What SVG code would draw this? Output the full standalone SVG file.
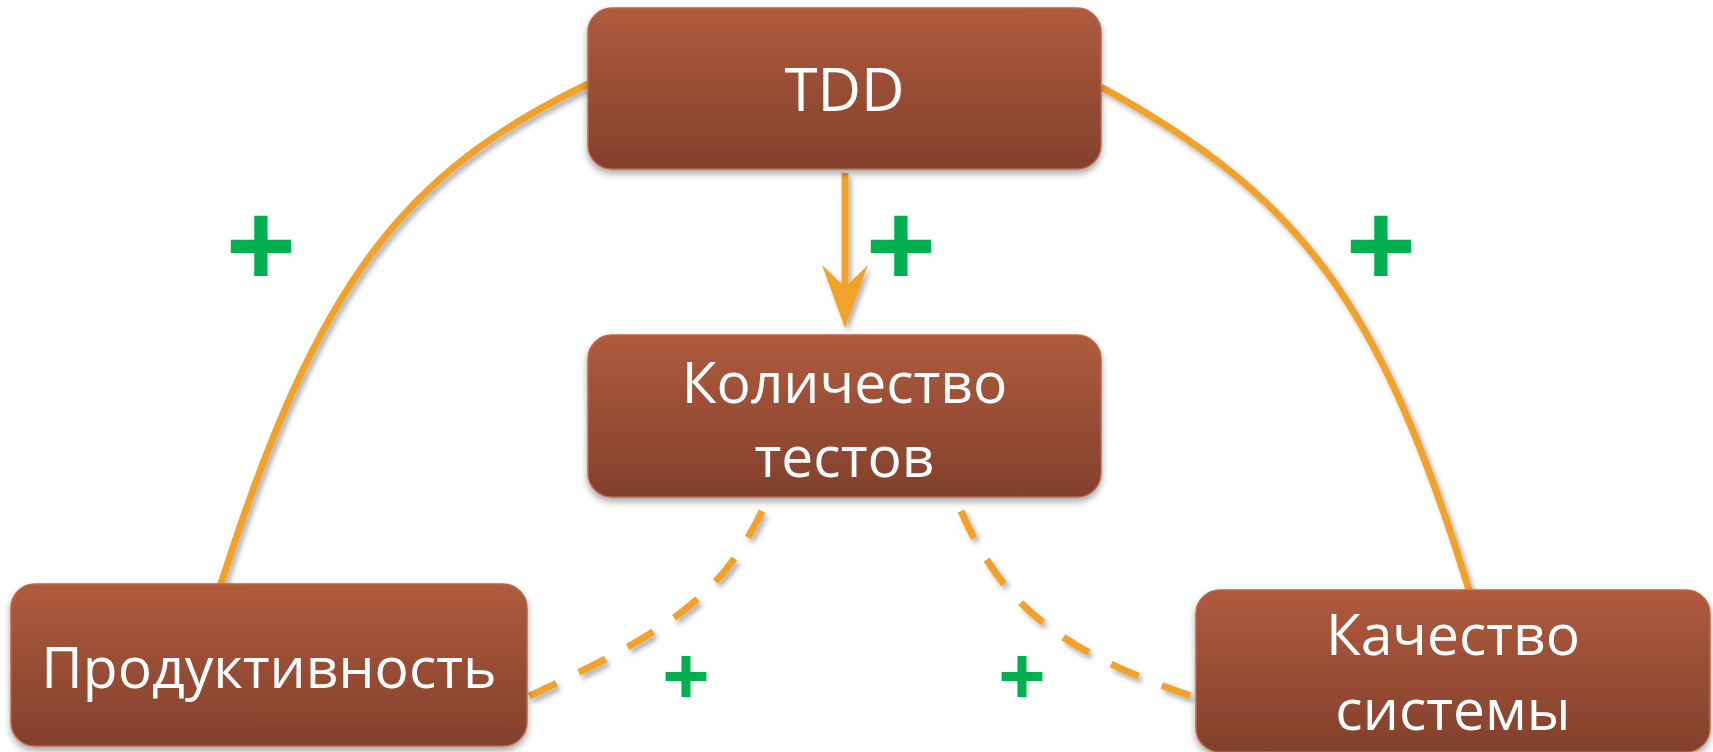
<svg xmlns="http://www.w3.org/2000/svg" width="1713" height="752" viewBox="0 0 1713 752">
  <style>
    .box { fill: url(#boxGrad); stroke: #B8654A; stroke-width: 1.5; filter: url(#boxShadow); }
    .label { font-family: "Open Sans", "Noto Sans", "DejaVu Sans", sans-serif; font-size: 57px; fill: #FFFFFF; text-anchor: middle; }
    .title { font-size: 60px; }
    .solid { fill: none; stroke: #F0A22B; stroke-width: 7; stroke-linecap: butt; filter: url(#lineShadow); }
    .dashed { fill: none; stroke: #F0A22B; stroke-width: 7; stroke-dasharray: 30 25; filter: url(#lineShadow); }
    .plus { font-family: "Open Sans", "Liberation Sans", sans-serif; font-weight: bold; fill: #00B050; text-anchor: middle; }
    .big { font-size: 124px; }
    .small { font-size: 84px; }
  </style>
  <defs>
    <linearGradient id="boxGrad" x1="0" y1="0" x2="0" y2="1">
      <stop offset="0" stop-color="#AF5B3E"/>
      <stop offset="1" stop-color="#82402C"/>
    </linearGradient>
    <filter id="boxShadow" x="-10%" y="-20%" width="120%" height="150%">
      <feDropShadow dx="0" dy="4" stdDeviation="3.5" flood-color="#000000" flood-opacity="0.35"/>
    </filter>
    <filter id="lineShadow" x="-20%" y="-20%" width="140%" height="140%">
      <feDropShadow dx="3" dy="4" stdDeviation="2.5" flood-color="#000000" flood-opacity="0.3"/>
    </filter>
  </defs>

  <g id="connectors">
    <path class="solid" d="M 588,84 C 405,172 318,280 221,584"/>
    <path class="solid" d="M 1101,87 C 1298,195 1380,300 1469,590"/>
    <g filter="url(#lineShadow)">
      <line x1="845" y1="173" x2="845" y2="290" stroke="#F0A22B" stroke-width="7"/>
      <polygon points="845,328 822,265 845,287 868,265" fill="#F0A22B"/>
    </g>
    <path class="dashed" d="M 762,511 C 722,594 675,629 525,698"/>
    <path class="dashed" d="M 961,511 C 999,596 1047,648 1197,698"/>
    <text class="plus big" x="261" y="290">+</text>
    <text class="plus big" x="901" y="290">+</text>
    <text class="plus big" x="1381" y="290">+</text>
    <text class="plus small" x="686" y="706">+</text>
    <text class="plus small" x="1022" y="706">+</text>
  </g>

  <g id="node-tdd">
    <rect class="box" x="588" y="8" width="513" height="161" rx="24" ry="24"/>
    <text class="label title" x="844.5" y="111">TDD</text>
  </g>
  <g id="node-tests">
    <rect class="box" x="588" y="335" width="513" height="162" rx="24" ry="24"/>
    <text class="label" x="844.5" y="403">Количество</text>
    <text class="label" x="844.5" y="477">тестов</text>
  </g>
  <g id="node-productivity">
    <rect class="box" x="11" y="584" width="516" height="162" rx="24" ry="24"/>
    <text class="label" x="269" y="688">Продуктивность</text>
  </g>
  <g id="node-quality">
    <rect class="box" x="1196" y="590" width="514" height="162" rx="24" ry="24"/>
    <text class="label" x="1453" y="655">Качество</text>
    <text class="label" x="1453" y="730">системы</text>
  </g>
</svg>
